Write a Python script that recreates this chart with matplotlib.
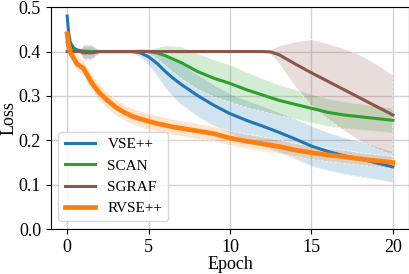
import numpy as np
import matplotlib
matplotlib.use('Agg')
import matplotlib.pyplot as plt

plt.rcParams['font.family'] = ['Liberation Serif', 'DejaVu Serif']
plt.rcParams['font.size'] = 13

epochs = [0, 0.1, 0.2, 0.4, 0.6, 0.8, 1, 1.5, 2, 2.5, 3, 3.5, 4, 4.5, 5, 5.5,
          6, 6.5, 7, 8, 9, 10, 11, 12, 12.5, 13, 14, 15, 16, 17, 18, 19, 20]

vse = [0.48, 0.44, 0.42, 0.408, 0.404, 0.402, 0.401, 0.40, 0.40, 0.40, 0.40, 0.40,
       0.40, 0.397, 0.388, 0.374, 0.356, 0.34, 0.326, 0.301, 0.279, 0.26, 0.245,
       0.232, 0.225, 0.218, 0.203, 0.187, 0.175, 0.165, 0.158, 0.149, 0.14]
vse_std = [0.003, 0.003, 0.003, 0.003, 0.003, 0.003, 0.016, 0.016, 0.003, 0.003, 0.003,
           0.003, 0.005, 0.01, 0.018, 0.028, 0.036, 0.042, 0.046, 0.047, 0.046, 0.045,
           0.045, 0.045, 0.045, 0.045, 0.045, 0.045, 0.043, 0.041, 0.04, 0.037, 0.035]

scan = [0.42, 0.41, 0.406, 0.403, 0.402, 0.401, 0.40, 0.40, 0.40, 0.40, 0.40, 0.40,
        0.40, 0.40, 0.40, 0.397, 0.391, 0.383, 0.375, 0.355, 0.34, 0.328, 0.314,
        0.302, 0.296, 0.29, 0.281, 0.272, 0.263, 0.257, 0.253, 0.249, 0.245]
scan_std = [0.003, 0.003, 0.003, 0.003, 0.003, 0.003, 0.003, 0.003, 0.003, 0.003, 0.003,
            0.003, 0.003, 0.003, 0.005, 0.012, 0.022, 0.03, 0.036, 0.04, 0.042, 0.042,
            0.04, 0.037, 0.036, 0.035, 0.033, 0.032, 0.031, 0.03, 0.029, 0.028, 0.028]

sgraf = [0.40, 0.40, 0.40, 0.40, 0.40, 0.40, 0.397, 0.397, 0.40, 0.40, 0.40, 0.40,
         0.40, 0.40, 0.40, 0.40, 0.40, 0.40, 0.40, 0.40, 0.40, 0.40, 0.40, 0.40,
         0.399, 0.393, 0.372, 0.352, 0.333, 0.314, 0.295, 0.276, 0.257]
sgraf_std = [0.002, 0.002, 0.002, 0.002, 0.002, 0.002, 0.016, 0.016, 0.002, 0.002, 0.002,
             0.002, 0.002, 0.002, 0.002, 0.002, 0.002, 0.002, 0.002, 0.002, 0.002, 0.002,
             0.002, 0.002, 0.005, 0.02, 0.05, 0.075, 0.085, 0.092, 0.097, 0.095, 0.09]

rvse = [0.44, 0.41, 0.397, 0.385, 0.372, 0.367, 0.362, 0.33, 0.306, 0.289, 0.274, 0.263,
        0.254, 0.248, 0.243, 0.238, 0.234, 0.23, 0.227, 0.221, 0.215, 0.205, 0.198,
        0.192, 0.189, 0.186, 0.178, 0.172, 0.167, 0.163, 0.158, 0.154, 0.15]
rvse_std = [0.008, 0.01, 0.012, 0.014, 0.015, 0.016, 0.017, 0.018, 0.018, 0.018, 0.018,
            0.018, 0.018, 0.018, 0.018, 0.018, 0.018, 0.017, 0.017, 0.017, 0.016, 0.016,
            0.016, 0.016, 0.016, 0.015, 0.015, 0.015, 0.015, 0.015, 0.014, 0.014, 0.014]

series = [
    ('VSE++', vse, vse_std, '#1f77b4', 2.2),
    ('SCAN', scan, scan_std, '#2ca02c', 2.2),
    ('SGRAF', sgraf, sgraf_std, '#8c564b', 2.2),
    ('RVSE++', rvse, rvse_std, '#ff7f0e', 3.4),
]

fig = plt.figure(figsize=(4.1, 2.74), dpi=100)
ax = fig.add_axes([0.124, 0.164, 0.874, 0.81])

x = np.array(epochs)
for name, m, s, c, lw in series:
    m = np.array(m)
    s = np.array(s)
    ax.fill_between(x, m - s, m + s, color=c, alpha=0.2, lw=0)
    ax.fill_between(x, m - s, m + s, facecolor='none', edgecolor='white',
                    lw=0.6, linestyle='--', alpha=0.8)
    ax.plot(x, m, color=c, lw=lw, label=name)

ax.set_ylim(0, 0.5)
ax.set_xlim(-1, 21)
ax.set_xticks([0, 5, 10, 15, 20])
ax.set_yticks([0.0, 0.1, 0.2, 0.3, 0.4, 0.5])
ax.grid(True, color='#d3d3d3', lw=1)
ax.set_axisbelow(True)
ax.set_xlabel('Epoch', labelpad=0)
ax.set_ylabel('Loss', labelpad=1)
ax.legend(loc='lower left', fontsize=11)

plt.savefig('out.png')
